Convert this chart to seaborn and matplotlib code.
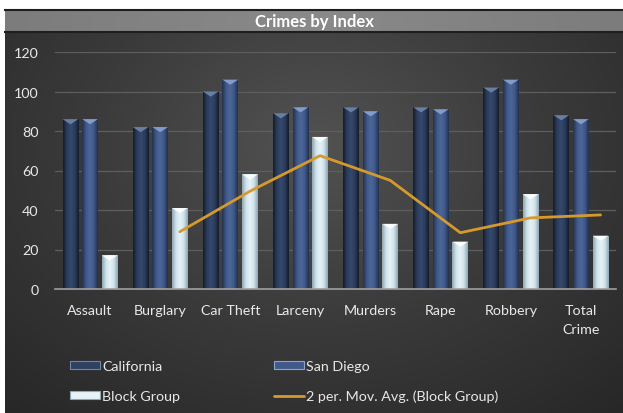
import numpy as np
import pandas as pd
import seaborn as sns
import matplotlib
matplotlib.use("Agg")
import matplotlib.pyplot as plt
from matplotlib.patches import Polygon, Patch
from matplotlib.lines import Line2D
from matplotlib.colors import LinearSegmentedColormap

# ---------------- data ----------------
categories = ["Assault", "Burglary", "Car Theft", "Larceny", "Murders", "Rape", "Robbery", "Total\nCrime"]
california = [86, 82, 100, 89, 92, 92, 102, 88]
san_diego = [86, 82, 106, 92, 90, 91, 106, 86]
block_group = [17, 41, 58, 77, 33, 24, 48, 27]
# 2 period moving average of Block Group (first category has none)
mov_avg = [None, 29, 49.5, 67.5, 55, 28.5, 36, 37.5]
series_names = ["California", "San Diego", "Block Group"]
yticks = [0, 20, 40, 60, 80, 100, 120]
title = "Crimes by Index"
trend_label = "2 per. Mov. Avg. (Block Group)"

df = pd.DataFrame({"Category": categories * 3,
                   "Value": california + san_diego + block_group,
                   "Series": [series_names[0]] * 8 + [series_names[1]] * 8 + [series_names[2]] * 8})

sns.set_style("dark")
plt.rcParams["font.family"] = ["Lato", "DejaVu Sans"]

W, H = 623, 414
fig = plt.figure(figsize=(W / 100, H / 100), dpi=100)
fig.patch.set_facecolor("white")

# chart background (radial dark gradient)
bgax = fig.add_axes([5 / W, 0, 618 / W, 381 / H])
yy, xx = np.mgrid[0:1:300j, 0:1:400j]
r = np.sqrt(((xx - 0.5) / 0.75) ** 2 + ((yy - 0.3) / 0.95) ** 2)
r = np.clip(r, 0, 1)
bg_cmap = LinearSegmentedColormap.from_list("bg", ["#525252", "#3a3a3a", "#272727"])
bgax.imshow(r, cmap=bg_cmap, aspect="auto", extent=[0, 1, 0, 1], origin="upper", vmin=0, vmax=1)
bgax.set_axis_off()

# title band
tax = fig.add_axes([5 / W, 381 / H, 618 / W, 22 / H])
tg = np.abs(np.linspace(-1, 1, 400))[None, :]
t_cmap = LinearSegmentedColormap.from_list("tb", ["#8a8a8a", "#7c7c7c"])
tax.imshow(tg, cmap=t_cmap, aspect="auto", extent=[0, 1, 0, 1])
tax.set_xticks([]); tax.set_yticks([])
for s in ["top", "bottom"]:
    tax.spines[s].set_color("#1e1e1e"); tax.spines[s].set_linewidth(1.5)
for s in ["left", "right"]:
    tax.spines[s].set_visible(False)
tax.text(0.5, 0.5, title, ha="center", va="center", color="white",
         fontsize=12, fontweight="bold", transform=tax.transAxes)

# main plot
ax = fig.add_axes([55 / W, 1 - 290 / H, 561 / W, 237 / H])
ax.set_facecolor("none")
base_cols = ["#2a3b5a", "#3f5884", "#c9e0e8"]
sns.barplot(data=df, x="Category", y="Value", hue="Series", palette=base_cols,
            width=0.84, gap=0.2, saturation=1, ax=ax, legend=False, zorder=3)

grads = [["#141c2b", "#2b3c5c", "#35496e", "#2b3c5c", "#141c2b"],
         ["#22314d", "#40598a", "#4b6698", "#40598a", "#22314d"],
         ["#8ea7b4", "#cfe3ea", "#e6f3f7", "#cfe3ea", "#8ea7b4"]]
caps = ["#6f86ab", "#8ba3cd", "#ffffff"]
gvals = np.linspace(0, 1, 64)[None, :]
block_centers = []
for k, cont in enumerate(ax.containers):
    cm = LinearSegmentedColormap.from_list("g%d" % k, grads[k])
    for rect in cont.patches:
        rect.set_edgecolor("none")
        x0, w, h = rect.get_x(), rect.get_width(), rect.get_height()
        im = ax.imshow(gvals, cmap=cm, extent=[x0, x0 + w, 0, h], aspect="auto", zorder=4)
        im.set_clip_path(rect)
        d = 2.6
        ax.add_patch(Polygon([(x0, h), (x0 + w, h), (x0 + w / 2, h - d)], closed=True,
                             facecolor=caps[k], edgecolor="none", alpha=0.9, zorder=5))
        if k == 2:
            block_centers.append(x0 + w / 2)

ma_x = [block_centers[i] for i, v in enumerate(mov_avg) if v is not None]
ma_y = [v for v in mov_avg if v is not None]
ax.plot(ma_x, ma_y, color="#d69a2c", lw=2, zorder=6, solid_joinstyle="round")

ax.set_xlim(-0.5, 7.5)
ax.set_ylim(0, 120)
ax.set_yticks(yticks)
ax.set_xlabel(""); ax.set_ylabel("")
ax.grid(False)
for yv in yticks[1:]:
    ax.axhline(yv, color="#5e5e5e", lw=0.9, zorder=1)
for s in ["top", "right", "left"]:
    ax.spines[s].set_visible(False)
ax.spines["bottom"].set_color("#a0a0a0")
ax.spines["bottom"].set_linewidth(1.2)
ax.spines["bottom"].set_zorder(7)
ax.tick_params(axis="both", length=0, colors="#e8e8e8", labelsize=10.3)
ax.tick_params(axis="y", pad=12)
ax.tick_params(axis="x", pad=11)
for lab in ax.get_xticklabels():
    lab.set_linespacing(1.65)

# legend
handles = [Patch(facecolor="#2e4163", edgecolor="#6f86ab", lw=0.8),
           Patch(facecolor="#e6f3f7", edgecolor="#8ea7b4", lw=0.8),
           Patch(facecolor="#40598a", edgecolor="#8ba3cd", lw=0.8),
           Line2D([0], [0], color="#d69a2c", lw=2)]
labels = [series_names[0], series_names[2], series_names[1], trend_label]
leg = fig.legend(handles, labels, ncol=2, loc="upper left",
                 bbox_to_anchor=(70 / W, 1 - 361 / H), frameon=False,
                 borderaxespad=0, borderpad=0,
                 handlelength=2.1, handleheight=0.5, handletextpad=0.15,
                 columnspacing=6.55, labelspacing=1.25, fontsize=10.3,
                 labelcolor="#e8e8e8")

fig.savefig("out.png", dpi=100)
